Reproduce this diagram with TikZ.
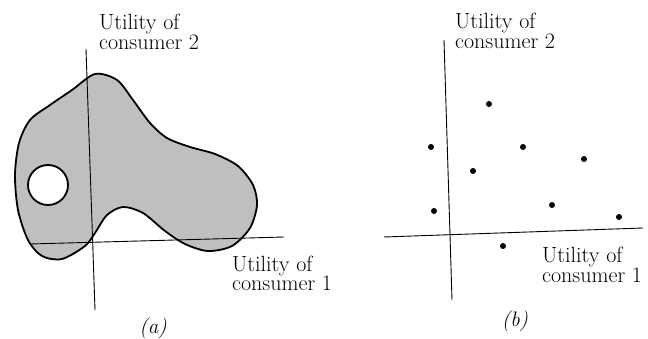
\documentclass[tikz,border=0pt]{standalone}
\newcommand\twoln[2]{\vtop{\baselineskip=20pt\hbox{#1}\hbox{#2}}}
\begin{document}
\begin{tikzpicture}[x=1pt,y=-1pt,
  axis/.style={line width=0.9pt},
  blob/.style={line width=1.8pt, fill=black!25, even odd rule},
  lbl/.style={font=\fontsize{22}{20}\selectfont, anchor=base west, inner sep=0pt},
  capt/.style={font=\fontsize{21}{21}\selectfont\itshape, anchor=base, inner sep=0pt},
  dotpt/.style={circle, fill=black, inner sep=0pt, minimum size=6pt}]
\useasboundingbox (0,0) rectangle (648,339);

% ---------- panel (a) ----------
\filldraw[blob] plot[smooth cycle, tension=0.5] coordinates {
 (95,74) (117,80) (133,100) (150,123) (167,138) (190,147) (215,154) (238,166)
 (253,185) (257,205) (250,228) (232,246) (208,251) (185,244) (165,231) (143,213)
 (123,207) (107,215) (95,233) (85,246) (62,259) (42,256) (28,240) (18,210)
 (15,175) (19,143) (30,120) (50,105) (72,90)}
 (48,185) circle[radius=20];

\coordinate (aytop) at (86,49);
\coordinate (aybot) at (95,310);
\coordinate (axl) at (30,244);
\coordinate (axr) at (284,237);
\draw[axis] (aytop) -- (aybot);
\draw[axis] (axl) -- (axr);

\node[lbl] (a2) at (99,30) {\twoln{Utility of}{consumer 2}};
\node[lbl] (a1) at (232,271) {\twoln{Utility of}{consumer 1}};
\node[capt] (capa) at (153,333) {(a)};

% ---------- panel (b) ----------
\coordinate (bytop) at (444,40);
\coordinate (bybot) at (452,300);
\coordinate (bxl) at (384,237);
\coordinate (bxr) at (643,228);
\draw[axis] (bytop) -- (bybot);
\draw[axis] (bxl) -- (bxr);

\node[lbl] (b2) at (455,29) {\twoln{Utility of}{consumer 2}};
\node[lbl] (b1) at (542,262) {\twoln{Utility of}{consumer 1}};
\node[capt] (capb) at (515,326) {(b)};

\node[dotpt] (p1) at (489,104) {};
\node[dotpt] (p2) at (431,147) {};
\node[dotpt] (p3) at (523,147) {};
\node[dotpt] (p4) at (584,159) {};
\node[dotpt] (p5) at (473,171) {};
\node[dotpt] (p6) at (434,211) {};
\node[dotpt] (p7) at (552,205) {};
\node[dotpt] (p8) at (619,217) {};
\node[dotpt] (p9) at (503,246) {};
\end{tikzpicture}
\end{document}
